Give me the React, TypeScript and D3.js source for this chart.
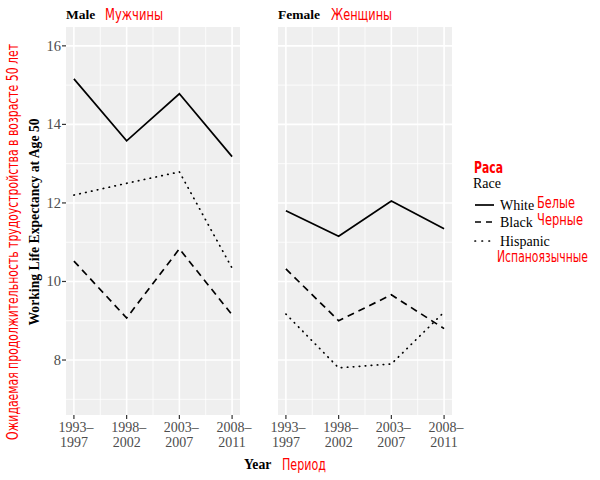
import React from 'react';
import * as d3 from 'd3';

const periods = ['1993–1997', '1998–2002', '2003–2007', '2008–2011'];
const races = ['White', 'Black', 'Hispanic'];
const racesRu = ['Белые', 'Черные', 'Испаноязычные'];
const maleWhite = [15.16, 13.58, 14.78, 13.18];
const maleBlack = [10.52, 9.07, 10.83, 9.15];
const maleHispanic = [12.2, 12.5, 12.79, 10.34];
const femaleWhite = [11.8, 11.15, 12.05, 11.34];
const femaleBlack = [10.32, 9.0, 9.66, 8.8];
const femaleHispanic = [9.17, 7.8, 7.9, 9.22];
const yTicks = [8, 10, 12, 14, 16];
const yMinor = [7, 9, 11, 13, 15];

const dashes: Record<string, string | undefined> = {
  White: undefined,
  Black: '7,5',
  Hispanic: '0.5,5.5',
};

const serif = '"Liberation Serif", "DejaVu Serif", serif';
const narrow = '"DejaVu Sans", "Roboto", sans-serif';
const red = '#ff0000';

const top = 27;
const bottom = 415;
const y = d3.scaleLinear().domain([6.6, 16.48]).range([bottom, top]);

const panels = [
  { title: 'Male', ru: 'Мужчины', ruX: 105, ruW: 58, x0: 66, x1: 240, series: [maleWhite, maleBlack, maleHispanic] },
  { title: 'Female', ru: 'Женщины', ruX: 331, ruW: 61, x0: 278, x1: 452, series: [femaleWhite, femaleBlack, femaleHispanic] },
];

// red overlay labels in a condensed look
const Red = ({ x, y: yy, w, bold, children }: { x: number; y: number; w: number; bold?: boolean; children: string }) => (
  <text
    x={x}
    y={yy}
    fontFamily={narrow}
    fontStretch="condensed"
    fontWeight={bold ? 'bold' : 'normal'}
    fontSize={16}
    fill={red}
    textLength={w}
    lengthAdjust="spacingAndGlyphs"
  >
    {children}
  </text>
);

const Panel = ({ p, showY }: { p: typeof panels[0]; showY: boolean }) => {
  const x = d3.scaleLinear().domain([0.85, 4.15]).range([p.x0, p.x1]);
  const idx = periods.map((_, i) => i + 1);
  const mids = [1.5, 2.5, 3.5];
  const line = d3
    .line<number>()
    .x((_, i) => x(i + 1))
    .y((d) => y(d));
  return (
    <g>
      <rect x={p.x0} y={top} width={p.x1 - p.x0} height={bottom - top} fill="#efefef" />
      {yMinor.map((t) => (
        <line key={'ym' + t} x1={p.x0} x2={p.x1} y1={y(t)} y2={y(t)} stroke="#fff" strokeWidth={0.8} />
      ))}
      {mids.map((t) => (
        <line key={'xm' + t} x1={x(t)} x2={x(t)} y1={top} y2={bottom} stroke="#fff" strokeWidth={0.8} />
      ))}
      {yTicks.map((t) => (
        <line key={'y' + t} x1={p.x0} x2={p.x1} y1={y(t)} y2={y(t)} stroke="#fff" strokeWidth={1.6} />
      ))}
      {idx.map((t) => (
        <line key={'x' + t} x1={x(t)} x2={x(t)} y1={top} y2={bottom} stroke="#fff" strokeWidth={1.6} />
      ))}
      {p.series.map((s, i) => (
        <path
          key={races[i]}
          d={line(s) || ''}
          fill="none"
          stroke="#000"
          strokeWidth={1.7}
          strokeDasharray={dashes[races[i]]}
          strokeLinecap={races[i] === 'Hispanic' ? 'round' : 'butt'}
        />
      ))}
      {idx.map((t, i) => {
        const [a, b] = periods[i].split('–');
        return (
          <g key={'xt' + t}>
            <line x1={x(t)} x2={x(t)} y1={bottom} y2={bottom + 4} stroke="#333" strokeWidth={1.2} />
            <text x={x(t) + 2} y={bottom + 17} textAnchor="middle" fontFamily={serif} fontSize={14} fill="#4d4d4d">
              {a + '–'}
            </text>
            <text x={x(t)} y={bottom + 32} textAnchor="middle" fontFamily={serif} fontSize={14} fill="#4d4d4d">
              {b}
            </text>
          </g>
        );
      })}
      {showY &&
        yTicks.map((t) => (
          <g key={'yt' + t}>
            <line x1={p.x0 - 4} x2={p.x0} y1={y(t)} y2={y(t)} stroke="#333" strokeWidth={1.2} />
            <text x={p.x0 - 5} y={y(t) + 5} textAnchor="end" fontFamily={serif} fontSize={14.5} fill="#4d4d4d">
              {t}
            </text>
          </g>
        ))}
      <text x={p.x0} y={19} fontFamily={serif} fontWeight="bold" fontSize={13.5} fill="#000">
        {p.title}
      </text>
      <Red x={p.ruX} y={20} w={p.ruW}>
        {p.ru}
      </Red>
    </g>
  );
};

const App = () => {
  const legendY = [205, 222, 241];
  const legendRuX = [537, 537, 497];
  const legendRuY = [208, 225, 262];
  const legendRuW = [38, 46, 91];
  return (
    <svg width={600} height={480} style={{ position: 'absolute', left: 0, top: 0, background: '#fff' }}>
      {panels.map((p, i) => (
        <Panel key={p.title} p={p} showY={i === 0} />
      ))}
      <text
        transform="translate(39,222) rotate(-90)"
        textAnchor="middle"
        fontFamily={serif}
        fontWeight="bold"
        fontSize={13.7}
      >
        Working Life Expectancy at Age 50
      </text>
      <text
        transform="translate(18,242) rotate(-90)"
        textAnchor="middle"
        fontFamily={narrow}
        fontStretch="condensed"
        fontSize={16}
        fill={red}
        textLength={396}
        lengthAdjust="spacingAndGlyphs"
      >
        Ожидаемая продолжительность трудоустройства в возрасте 50 лет
      </text>
      <text x={244} y={469} fontFamily={serif} fontWeight="bold" fontSize={13.7}>
        Year
      </text>
      <Red x={282} y={470} w={44}>
        Период
      </Red>
      <Red x={474} y={173} w={29} bold>
        Раса
      </Red>
      <text x={473} y={188} fontFamily={serif} fontSize={14}>
        Race
      </text>
      {races.map((r, i) => (
        <g key={r}>
          <line
            x1={475}
            x2={494}
            y1={legendY[i]}
            y2={legendY[i]}
            stroke="#000"
            strokeWidth={1.7}
            strokeDasharray={r === 'Black' ? '6,5' : r === 'Hispanic' ? '0.5,6.5' : undefined}
            strokeLinecap={r === 'Hispanic' ? 'round' : 'butt'}
          />
          <text x={500} y={legendY[i] + 4.5} fontFamily={serif} fontSize={14}>
            {r}
          </text>
          <Red x={legendRuX[i]} y={legendRuY[i]} w={legendRuW[i]}>
            {racesRu[i]}
          </Red>
        </g>
      ))}
    </svg>
  );
};

export default App;
